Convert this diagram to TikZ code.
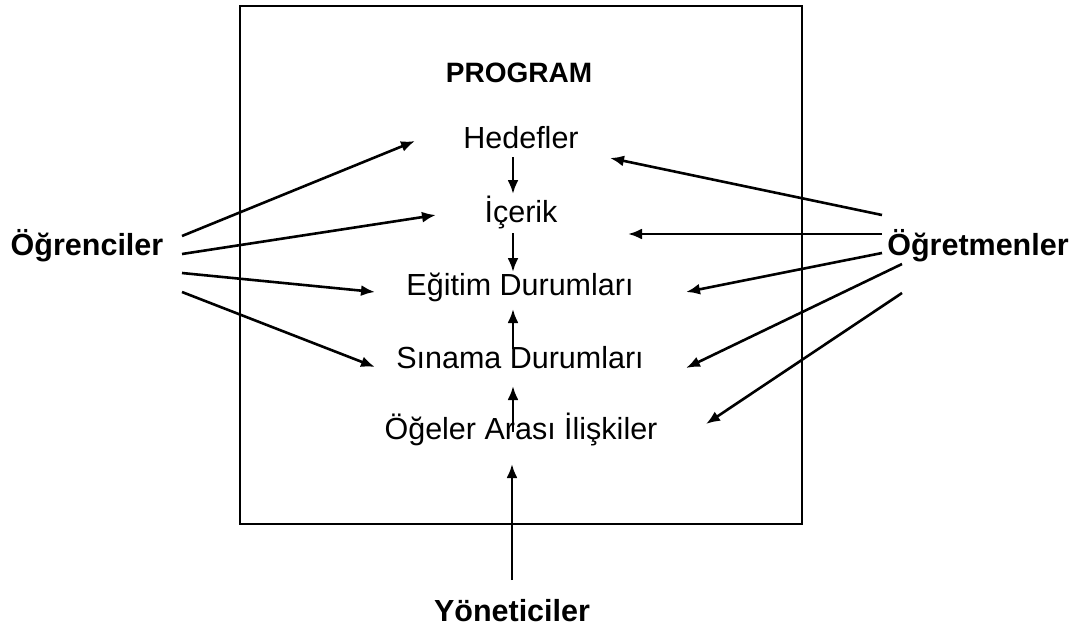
\documentclass[tikz,border=0pt]{standalone}
\usepackage{fontspec}
\setmainfont{Liberation Sans}
\usetikzlibrary{arrows.meta}
\begin{document}
\begin{tikzpicture}[x=1pt,y=-1pt,
  lbl/.style={font=\fontsize{30.5}{31}\selectfont, inner sep=0pt, anchor=base},
  actor/.style={font=\fontsize{30.5}{31}\selectfont\bfseries, inner sep=0pt, anchor=base},
  conn/.style={line width=2.6pt, -{Latex[length=14pt,width=11pt]}}]
\useasboundingbox (0,0) rectangle (1079,630);
\draw[line width=2.4pt] (240,6) rectangle (802,524);
\node[font=\fontsize{28}{28}\selectfont\bfseries, inner sep=0pt, anchor=base] (prog) at (519,82) {PROGRAM};
\node[lbl] (hed) at (521,148) {Hedefler};
\node[lbl] (ice) at (521,222) {İçerik};
\node[lbl] (egi) at (520,295) {Eğitim Durumları};
\node[lbl] (sin) at (520,368) {Sınama Durumları};
\node[lbl] (oge) at (521,439) {Öğeler Arası İlişkiler};
\node[actor] (ogr) at (87,255) {Öğrenciler};
\node[actor] (ogt) at (978,255) {Öğretmenler};
\node[actor] (yon) at (512,621) {Yöneticiler};
% left arrow ends
\coordinate (l1s) at (182,236); \coordinate (l1e) at (415,141);
\coordinate (l2s) at (182,254); \coordinate (l2e) at (436,215);
\coordinate (l3s) at (182,273); \coordinate (l3e) at (375,292);
\coordinate (l4s) at (182,292); \coordinate (l4e) at (375,367);
% right arrow ends
\coordinate (r1s) at (882,215); \coordinate (r1e) at (610,158);
\coordinate (r2s) at (882,234); \coordinate (r2e) at (628,234);
\coordinate (r3s) at (882,253); \coordinate (r3e) at (686,292);
\coordinate (r4s) at (902,264); \coordinate (r4e) at (686,368);
\coordinate (r5s) at (902,293); \coordinate (r5e) at (706,424);
% vertical
\coordinate (v1s) at (513,157); \coordinate (v1e) at (513,194);
\coordinate (v2s) at (513,233); \coordinate (v2e) at (513,272);
\coordinate (v3s) at (513,349); \coordinate (v3e) at (513,309);
\coordinate (v4s) at (513,432); \coordinate (v4e) at (513,386);
\coordinate (v5s) at (512,580); \coordinate (v5e) at (512,464);
\foreach \a in {l1,l2,l3,l4,r1,r2,r3,r4,r5,v1,v2,v3,v4,v5}
  \draw[conn] (\a s) -- (\a e);
\end{tikzpicture}
\end{document}
